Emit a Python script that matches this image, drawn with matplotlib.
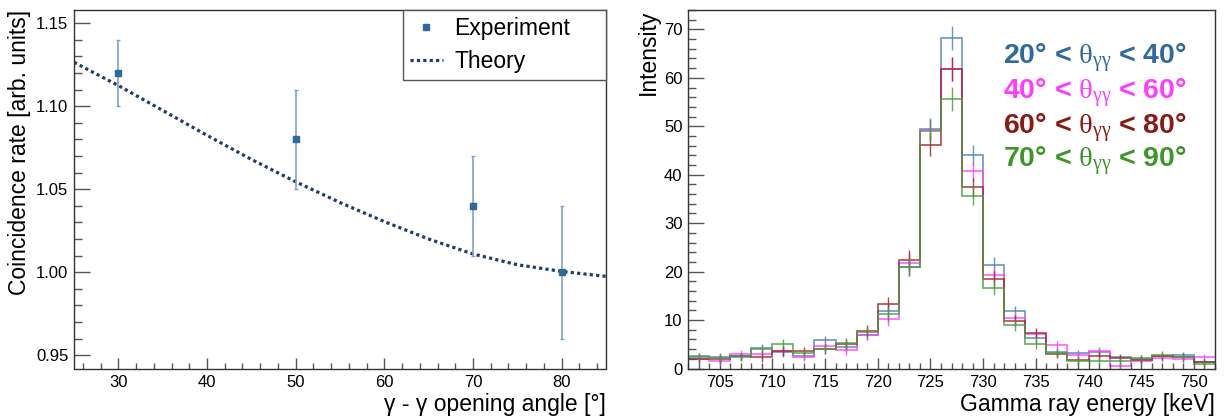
import numpy as np
import matplotlib
matplotlib.use("Agg")
import matplotlib.pyplot as plt
from matplotlib.ticker import MultipleLocator
from matplotlib.lines import Line2D

plt.rcParams['font.family'] = ['Liberation Sans', 'DejaVu Sans']
plt.rcParams['mathtext.fontset'] = 'custom'
plt.rcParams['mathtext.rm'] = 'Liberation Serif'
plt.rcParams['mathtext.it'] = 'Liberation Serif'
plt.rcParams['mathtext.bf'] = 'Liberation Serif'

# ---------------- data: left panel ----------------
exp_angle = [30, 50, 70, 80]
exp_rate = [1.12, 1.08, 1.04, 1.00]
exp_err = [0.02, 0.03, 0.03, 0.04]

theory_angle = [25, 30, 35, 40, 45, 50, 55, 60, 65, 70, 75, 80, 85]
theory_rate = [1.1265, 1.1125, 1.0975, 1.0825, 1.0680, 1.0545, 1.0420,
               1.0305, 1.0200, 1.0110, 1.0045, 1.0005, 0.9975]

# ---------------- data: right panel ----------------
bin_edges = list(range(702, 754, 2))
bin_centers = list(range(703, 753, 2))
int_20_40 = [2.3, 2.3, 2.3, 4.2, 3.4, 2.5, 5.8, 4.5, 7.0, 11.9, 21.0, 49.5, 68.2,
             44.1, 21.4, 11.8, 6.2, 3.4, 3.1, 3.4, 2.3, 2.0, 2.5, 2.7, 1.3]
int_40_60 = [1.9, 1.6, 3.0, 3.0, 3.6, 2.4, 4.7, 3.8, 7.0, 10.2, 21.8, 49.3, 61.9,
             40.7, 19.4, 10.5, 7.2, 4.9, 2.8, 3.6, 0.5, 1.6, 2.2, 2.0, 2.4]
int_60_80 = [2.0, 2.0, 2.5, 2.3, 3.6, 3.7, 4.0, 5.0, 7.8, 13.3, 22.4, 46.2, 61.8,
             37.4, 18.5, 9.9, 7.3, 2.9, 1.7, 2.6, 2.1, 1.8, 2.5, 2.3, 1.3]
int_70_90 = [2.5, 2.2, 2.5, 4.0, 5.0, 3.2, 4.0, 5.2, 7.5, 11.2, 21.0, 49.0, 55.6,
             35.7, 16.7, 8.9, 5.1, 3.2, 1.6, 1.6, 1.5, 2.1, 2.8, 2.4, 1.0]
int_err = [0.8, 0.8, 0.8, 0.9, 1.0, 0.8, 1.0, 1.0, 1.1, 1.5, 2.0, 2.3, 2.5,
           2.0, 1.6, 1.2, 1.0, 0.8, 0.7, 0.8, 0.7, 0.7, 0.8, 0.8, 0.6]
series_labels = [r"20° < $\theta_{\gamma\gamma}$ < 40°",
                 r"40° < $\theta_{\gamma\gamma}$ < 60°",
                 r"60° < $\theta_{\gamma\gamma}$ < 80°",
                 r"70° < $\theta_{\gamma\gamma}$ < 90°"]

series = [int_20_40, int_40_60, int_60_80, int_70_90]
line_colors = ['#4f84b6', '#ff44ff', '#9b2a2a', '#4c9e3c']
text_colors = ['#2f6a9c', '#ff3cff', '#8a1a14', '#3c9628']

fig = plt.figure(figsize=(12.25, 4.19), dpi=100)
W, H = 1225, 419
bot = 1 - 368.5 / H
hgt = (368.5 - 10) / H
ax1 = fig.add_axes([74 / W, bot, (606 - 74) / W, hgt])
ax2 = fig.add_axes([688 / W, bot, (1215 - 688) / W, hgt])

def style(ax, maj_y, min_y, maj_x, min_x):
    for s in ax.spines.values():
        s.set_color('#333333')
        s.set_linewidth(1.0)
    ax.tick_params(which='both', direction='in', top=False, right=False,
                   color='#555555', labelsize=12, width=1.0)
    ax.tick_params(axis='y', which='major', length=11.5, pad=4)
    ax.tick_params(axis='y', which='minor', length=5.8)
    ax.tick_params(axis='x', which='major', length=8, pad=5)
    ax.tick_params(axis='x', which='minor', length=4)
    ax.yaxis.set_major_locator(MultipleLocator(maj_y))
    ax.yaxis.set_minor_locator(MultipleLocator(min_y))
    ax.xaxis.set_major_locator(MultipleLocator(maj_x))
    ax.xaxis.set_minor_locator(MultipleLocator(min_x))

# ---------------- left panel ----------------
ax1.plot(theory_angle, theory_rate, linestyle=(0, (1, 1)), color='#1f3d66',
         lw=2.3, zorder=2)
ax1.errorbar(exp_angle, exp_rate, yerr=exp_err, fmt='s', color='#2d6a9b',
             ms=5, ecolor='#7fa3c4', elinewidth=1.2, capsize=1.5, zorder=3)
ax1.set_xlim(25, 85)
ax1.set_ylim(0.942, 1.158)
style(ax1, 0.05, 0.01, 10, 2)
ax1.yaxis.set_major_formatter(matplotlib.ticker.FormatStrFormatter('%.2f'))
ax1.set_xlabel(u"\u03b3 - \u03b3 opening angle [\u00b0]", loc='right',
               fontsize=16.5, labelpad=2)
ax1.set_ylabel("Coincidence rate [arb. units]", loc='top', fontsize=16.5,
               labelpad=4)
h_exp = Line2D([], [], marker='s', ls='none', color='#2d6a9b', ms=5)
h_th = Line2D([], [], ls=(0, (1, 1)), color='#1f3d66', lw=2.3)
leg = ax1.legend([h_exp, h_th], ['Experiment', 'Theory'], loc='upper left',
                 bbox_to_anchor=((403 - 74) / 532, 0.0, (606 - 403) / 532, 1.0),
                 mode='expand', borderaxespad=0, fancybox=False,
                 edgecolor='#555555', fontsize=16.5, handlelength=1.45,
                 borderpad=0.3, labelspacing=0.45, handletextpad=0.5,
                 framealpha=1)
leg.get_frame().set_linewidth(1.0)

# ---------------- right panel ----------------
for vals, c in zip(series, line_colors):
    ax2.stairs(vals, bin_edges, color=c, lw=1.2, alpha=0.85, baseline=None)
    ax2.errorbar(bin_centers, vals, yerr=int_err, fmt='none', ecolor=c,
                 elinewidth=1.0, alpha=0.85)
ax2.set_xlim(702, 752)
ax2.set_ylim(0, 74)
style(ax2, 10, 2, 5, 1)
ax2.set_xlabel("Gamma ray energy [keV]", loc='right', fontsize=16.5, labelpad=2)
ax2.set_ylabel("Intensity", loc='top', fontsize=16.5, labelpad=3)

text_y = [64.1, 56.9, 49.7, 42.9]
for lab, c, y in zip(series_labels, text_colors, text_y):
    ax2.text(749.3, y, lab, color=c, fontsize=20.5, fontweight='bold',
             ha='right', va='center')

fig.savefig("out.png", dpi=100)
